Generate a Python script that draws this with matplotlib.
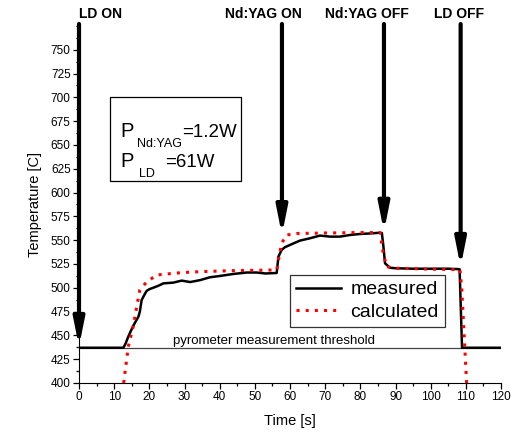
import matplotlib
matplotlib.use('Agg')
import matplotlib.pyplot as plt
from matplotlib.patches import Rectangle
from matplotlib.ticker import MultipleLocator

plt.rcParams['font.family'] = ['Liberation Sans', 'DejaVu Sans']

# measured temperature (pyrometer)
meas_t = [0, 12.6, 13.2, 14.0, 15.4, 16.9, 17.3, 17.8, 18.5, 19.2, 20, 21.1, 22.5, 24, 26.8,
          29.2, 31.6, 34.4, 37.2, 40.1, 43.9, 47.7, 50.5, 53, 56.2, 56.7, 57.6, 58.5, 60,
          62.8, 65.7, 68.5, 71.4, 74.2, 77, 79.9, 82.7, 85.1, 86.1, 86.5, 87, 88.4, 90,
          95, 100, 105, 108.2, 108.9, 120]
meas_T = [437, 437, 441, 448.6, 459.9, 469.7, 475, 487, 492, 496.6, 498.5, 500, 502, 504.6, 505.4,
          507.5, 506, 508, 511, 512.4, 514.5, 516, 516, 515, 515.5, 532.7, 539.7, 542.5, 545,
          549.5, 552, 554.8, 553.7, 553.7, 555.4, 556.5, 557, 557.7, 557.5, 545, 525.7, 521, 520.5,
          520, 520, 520, 519.5, 437, 437]

# calculated temperature
calc_t = [12.7, 14.0, 15.4, 16.4, 17.3, 19.2, 22.1, 25, 29.6, 35, 43.8, 50, 56.2, 57.0, 57.6,
          59, 62, 70, 80, 85.6, 86.5, 87.5, 90.3, 100, 108.3, 108.8, 109.5, 110.2]
calc_T = [400, 438, 459, 480, 497.7, 506, 513.4, 514.5, 516, 517, 518, 518.3, 518.7, 535, 546.7,
          555.4, 557, 557.5, 558, 558, 536, 522, 520.5, 519.5, 519, 500, 450, 400]

threshold = 437

# events: label, arrow x, arrow tip temperature, label x
events = ['LD ON', 'Nd:YAG ON', 'Nd:YAG OFF', 'LD OFF']
event_x = [0, 57.7, 86.7, 108.5]
event_tip = [438, 555.5, 559, 522]
label_x = [0, 41.5, 69.9, 101.0]

fig = plt.figure(figsize=(5.11, 4.36), dpi=100)
ax = fig.add_axes([0.1546, 0.1216, 0.826, 0.819])

ax.plot([0, 120], [threshold, threshold], color='#444444', lw=0.9)
ax.plot(meas_t, meas_T, color='black', lw=1.8, label='measured', zorder=3)
ax.plot(calc_t, calc_T, color='red', lw=2.2, linestyle=(0, (1, 2)), label='calculated', zorder=4)

ax.set_xlim(0, 120)
ax.set_ylim(400, 775)
ax.xaxis.set_major_locator(MultipleLocator(10))
ax.xaxis.set_minor_locator(MultipleLocator(5))
ax.set_yticks(range(400, 751, 25))
ax.yaxis.set_minor_locator(MultipleLocator(12.5))
for s in ['top', 'right']:
    ax.spines[s].set_visible(False)
ax.tick_params(which='major', direction='out', length=4, width=0.9, labelsize=8.5, pad=2)
ax.tick_params(which='minor', direction='out', length=2.5, width=0.9)

ax.set_xlabel('Time [s]', fontsize=10.5, labelpad=8)
ax.set_ylabel('Temperature [C]', fontsize=10.5, labelpad=6)

ax.text(26.6, 441, 'pyrometer measurement threshold', fontsize=9.5, va='baseline')

# arrows
for lab, x, tip, lx in zip(events, event_x, event_tip, label_x):
    ax.annotate('', xy=(x, tip), xytext=(x, 777), annotation_clip=False,
                arrowprops=dict(arrowstyle='-|>,head_length=0.8,head_width=0.16',
                                mutation_scale=20, lw=3, color='black', shrinkA=0, shrinkB=0),
                zorder=5)
    ax.text(lx, 788, lab, fontsize=10, fontweight='bold', va='center', ha='left', clip_on=False)

# info box
ax.add_patch(Rectangle((8.8, 612.2), 37.3, 88.2, fill=False, ec='black', lw=0.9))
ax.text(11.9, 658.4, 'P', fontsize=14.5, va='baseline')
ax.text(16.6, 647.9, 'Nd:YAG', fontsize=9, va='baseline')
ax.text(29.3, 658.4, '=1.2W', fontsize=13.5, va='baseline')
ax.text(11.9, 626.9, 'P', fontsize=14.5, va='baseline')
ax.text(17.2, 616.4, 'LD', fontsize=9, va='baseline')
ax.text(24.5, 626.9, '=61W', fontsize=13.5, va='baseline')

leg = ax.legend(loc='upper left', bbox_to_anchor=(0.5, 0.3025), borderaxespad=0,
                fontsize=14, frameon=True, fancybox=False, edgecolor='black',
                handlelength=2.3, borderpad=0.3, labelspacing=0.25, handletextpad=0.5)
leg.get_frame().set_linewidth(0.9)

fig.savefig('out.png', dpi=100)
